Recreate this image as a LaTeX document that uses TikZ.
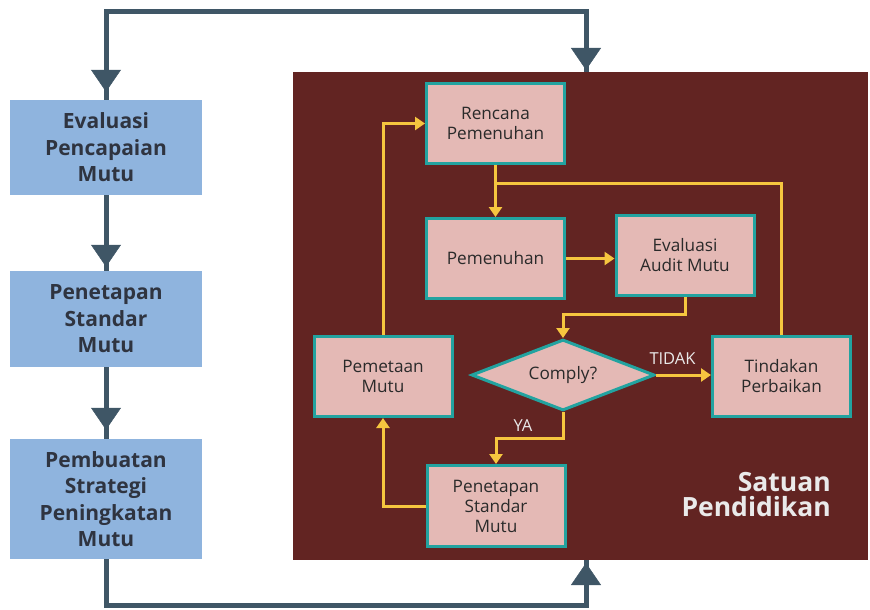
\documentclass[tikz,border=0pt]{standalone}
\usepackage{fontspec}
\setmainfont{Open Sans}
\usetikzlibrary{arrows.meta,shapes.geometric,calc}
\definecolor{maroon}{HTML}{622422}
\definecolor{pinkfill}{HTML}{E4B9B5}
\definecolor{tealb}{HTML}{22A3A0}
\definecolor{bluebox}{HTML}{8FB4DE}
\definecolor{darkline}{HTML}{3F5666}
\definecolor{yel}{HTML}{F6C63F}
\definecolor{btext}{HTML}{2F3440}
\definecolor{itext}{HTML}{2A2A2A}
\definecolor{lgray}{HTML}{EAEAEA}
\tikzset{
  bluestep/.style={rectangle, fill=bluebox, draw=none, minimum width=192pt, align=center,
    text=btext, font=\fontsize{21}{26.5}\selectfont\bfseries, inner sep=0pt},
  pinkstep/.style={rectangle, fill=pinkfill, draw=tealb, line width=3pt, minimum width=138pt,
    minimum height=80pt, align=center, text=itext, font=\fontsize{17.2}{20}\selectfont, inner sep=0pt},
  decision/.style={diamond, fill=pinkfill, draw=tealb, line width=3pt, minimum width=183pt,
    minimum height=71pt, aspect=2.5, inner sep=0pt, text=itext, font=\fontsize{17.2}{20}\selectfont},
  dline/.style={draw=darkline, line width=5pt},
  dhead/.style={draw=darkline, -{Triangle[width=30pt,length=22pt,fill=darkline]}, line width=0.5pt},
  yline/.style={draw=yel, line width=3pt},
  yarrow/.style={draw=yel, line width=3pt, -{Triangle[width=13pt,length=10pt,fill=yel]}},
  lbl/.style={text=lgray, font=\fontsize{16.5}{18}\selectfont, inner sep=0pt}
}
\begin{document}
\begin{tikzpicture}[x=1pt,y=-1pt]
\useasboundingbox (0,0) rectangle (870,610);
% maroon frame
\node[fill=maroon, minimum width=575pt, minimum height=488pt, inner sep=0pt, draw=none, anchor=north west] (frame) at (293,72) {};
\node[anchor=east, align=right, text=lgray, font=\fontsize{26.5}{25}\selectfont\bfseries, inner sep=0pt] (sp) at (831,495) {Satuan\\Pendidikan};
\coordinate (ft) at (586,72);
\coordinate (fb) at (586,560);
% blue boxes
\node[bluestep, minimum height=95pt] (b1) at (106,147.5) {Evaluasi\\Pencapaian\\Mutu};
\node[bluestep, minimum height=96pt] (b2) at (106,319) {Penetapan\\Standar\\Mutu};
\node[bluestep, minimum height=120pt] (b3) at (106,499) {Pembuatan\\Strategi\\Peningkatan\\Mutu};
% dark connectors
\draw[dline] (b1.north) |- ($(ft)+(0,-60)$) -- (ft);
\draw[dline] (b1.south) -- (b2.north);
\draw[dline] (b2.south) -- (b3.north);
\draw[dline] (b3.south) |- ($(fb)+(0,45)$) -- (fb);
\draw[dhead] ($(ft)+(0,-25)$) -- ($(ft)+(0,-2)$);
\draw[dhead] ($(b1.north)+(0,-31)$) -- ($(b1.north)+(0,-8)$);
\draw[dhead] ($(b2.north)+(0,-27)$) -- ($(b2.north)+(0,-4)$);
\draw[dhead] ($(b3.north)+(0,-32)$) -- ($(b3.north)+(0,-9)$);
\draw[dhead] ($(fb)+(0,26)$) -- ($(fb)+(0,3)$);
% inner boxes
\node[pinkstep] (ren) at (495.5,123.5) {Rencana\\Pemenuhan};
\node[pinkstep] (pem) at (495.5,258.5) {Pemenuhan};
\node[pinkstep] (eva) at (685,255.5) {Evaluasi\\Audit Mutu};
\node[pinkstep] (tin) at (781.5,376.5) {Tindakan\\Perbaikan};
\node[pinkstep] (pmt) at (383,376.5) {Pemetaan\\Mutu};
\node[pinkstep, minimum height=81pt] (pen) at (496,506) {Penetapan\\Standar\\Mutu};
\node[decision] (cmp) at (563,375) {Comply?};
% yellow connectors
\coordinate (j) at ($(ren.south)+(0,18)$);
\draw[yarrow] (ren.south) -- (pem.north);
\draw[yline] (tin.north) |- (j);
\draw[yarrow] (pem.east) -- (pem.east -| eva.west);
\draw[yarrow] (eva.south) -- ++(0,17) -| (cmp.north);
\draw[yarrow] (cmp.east) -- (cmp.east -| tin.west) node[lbl, pos=0.3, above=9pt] (tl) {TIDAK};
\draw[yarrow] (cmp.south) -- ++(0,26) -| (pen.north);
\node[lbl] (yl) at (523,426) {YA};
\draw[yarrow] (pen.west) -| (pmt.south);
\draw[yarrow] (pmt.north) |- (ren.west);
\end{tikzpicture}
\end{document}
